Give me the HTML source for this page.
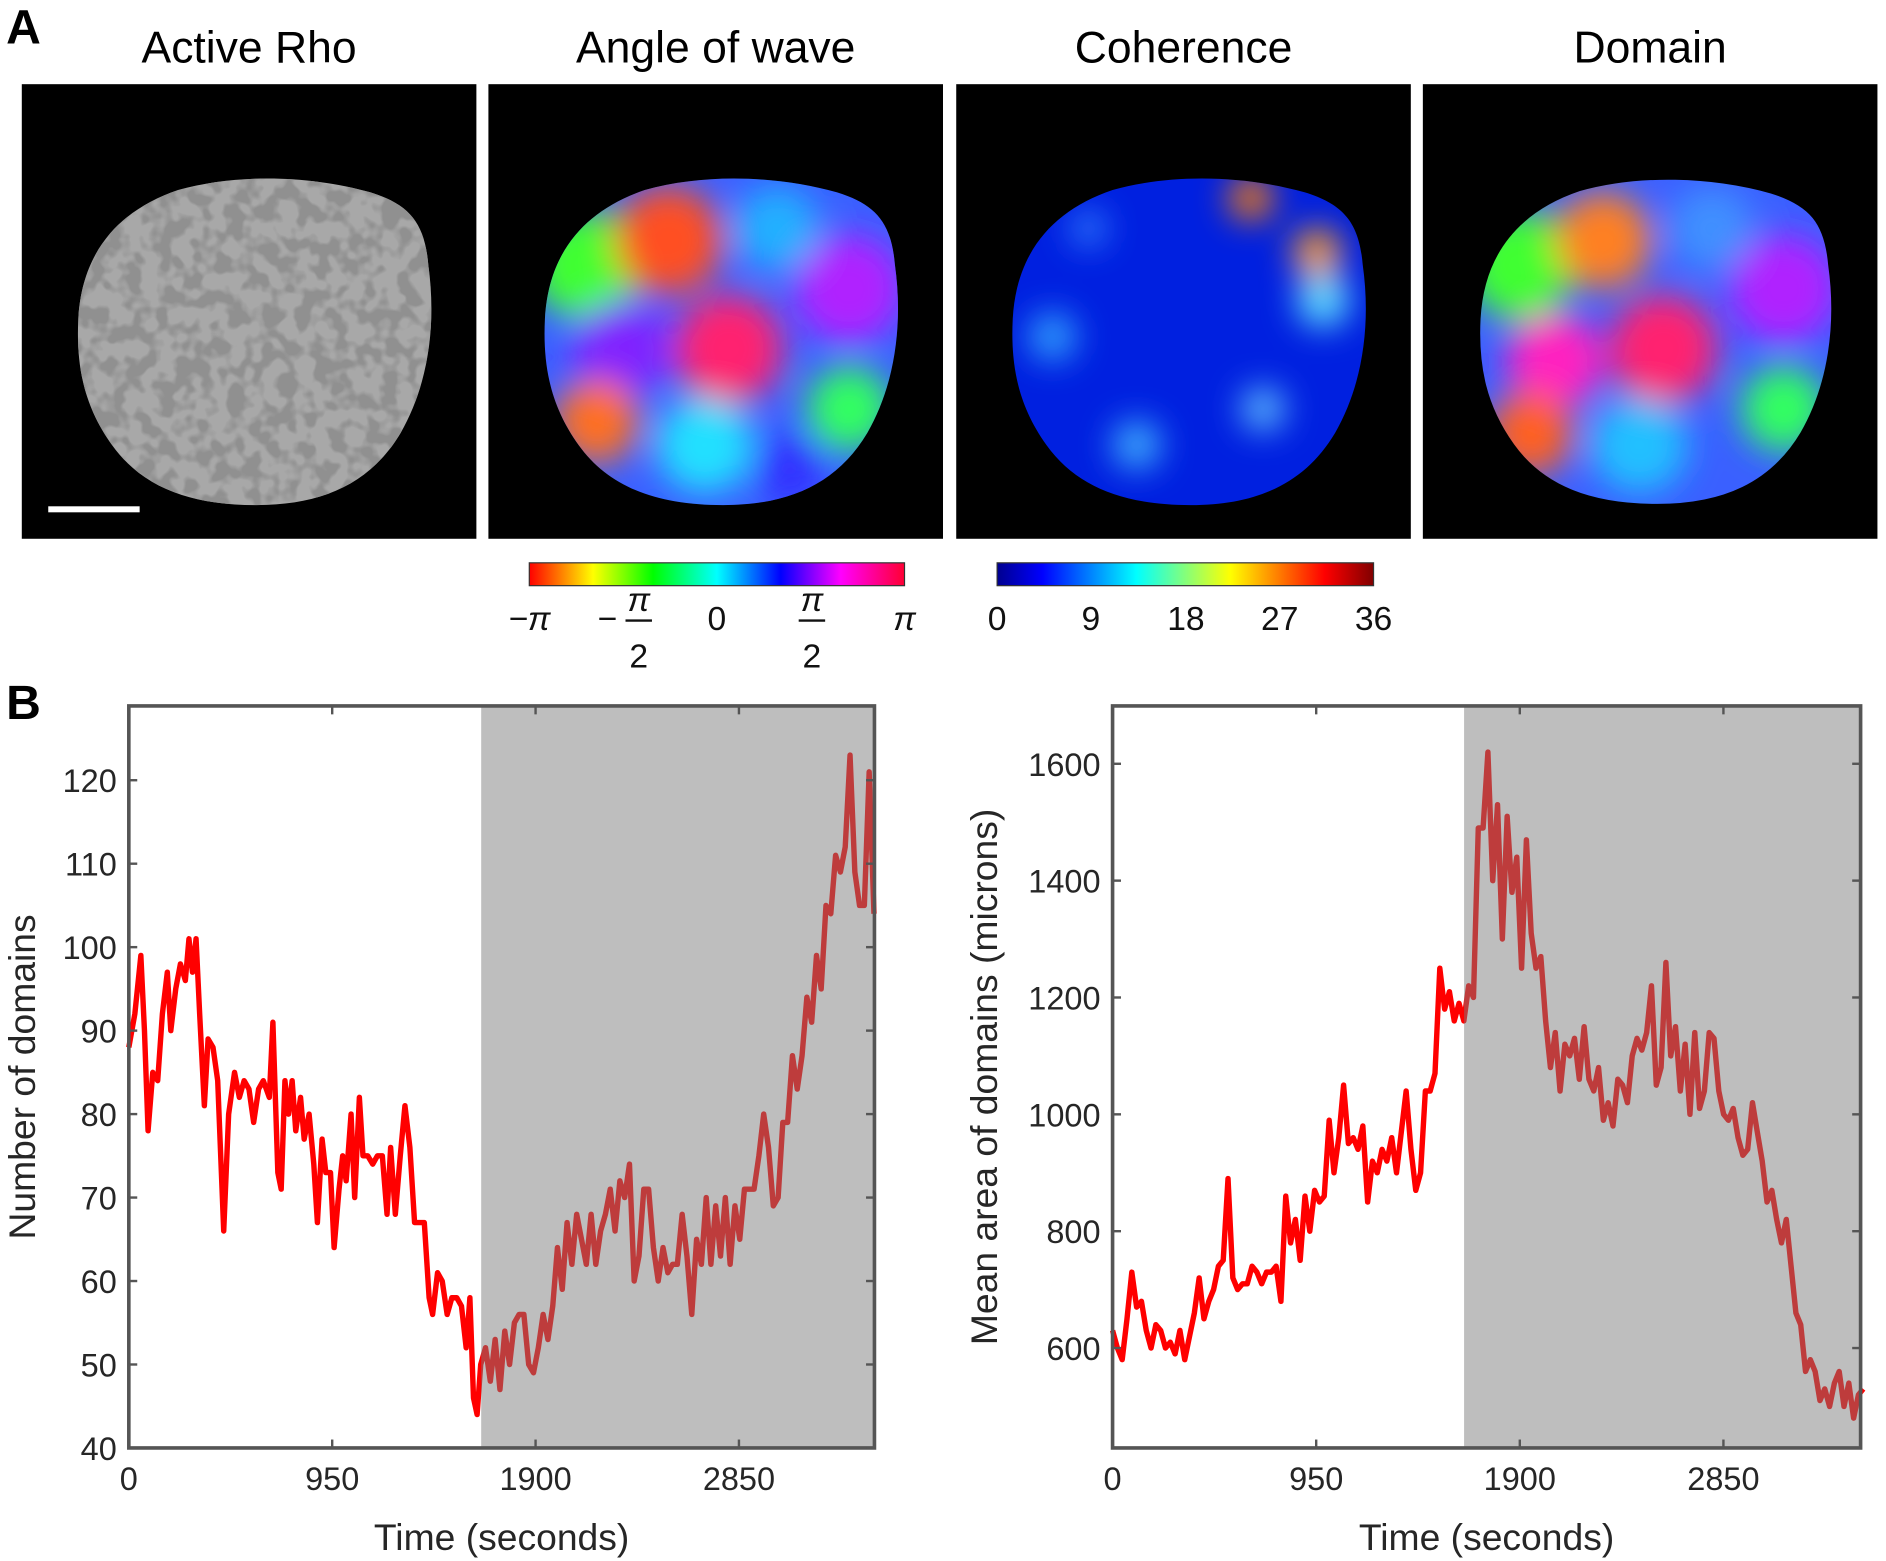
<!DOCTYPE html>
<html><head><meta charset="utf-8"><style>
html,body{margin:0;padding:0;background:#fff}
svg{display:block}
text{font-family:"Liberation Sans",Arial,sans-serif}
.serif{font-family:"Liberation Serif","DejaVu Serif",serif}
</style></head><body>
<svg id="fig" width="1886" height="1561" viewBox="0 0 1568 1298" xmlns="http://www.w3.org/2000/svg">
<defs>
 <path id="blob" d="M47,195 C50,140 80,105 130,88 C180,74 240,76 290,90 C322,100 335,115 338,150 C345,200 338,250 315,290 C290,332 250,350 195,350 C140,350 100,335 75,300 C52,268 45,235 47,195 Z"/>
 <clipPath id="cb"><use href="#blob"/></clipPath>
 <filter id="blur12"><feGaussianBlur stdDeviation="14"/></filter>
 <filter id="rhoTex" x="0" y="0" width="100%" height="100%">
  <feTurbulence type="fractalNoise" baseFrequency="0.07" numOctaves="2" seed="3"/>
  <feColorMatrix type="matrix" values="0 0 0 0 0.28  0 0 0 0 0.28  0 0 0 0 0.28  6 0 0 0 -2.6"/>
 </filter>
 <linearGradient id="hsv" x1="0" x2="1">
  <stop offset="0" stop-color="#ff0000"/><stop offset="0.17" stop-color="#ffff00"/><stop offset="0.33" stop-color="#00ff00"/>
  <stop offset="0.5" stop-color="#00ffff"/><stop offset="0.67" stop-color="#0000ff"/><stop offset="0.83" stop-color="#ff00ff"/><stop offset="1" stop-color="#ff0033"/>
 </linearGradient>
 <linearGradient id="jet" x1="0" x2="1">
  <stop offset="0" stop-color="#00008f"/><stop offset="0.12" stop-color="#0000ff"/><stop offset="0.37" stop-color="#00ffff"/>
  <stop offset="0.62" stop-color="#ffff00"/><stop offset="0.87" stop-color="#ff0000"/><stop offset="1" stop-color="#800000"/>
 </linearGradient>
</defs>

<text x="5" y="36" font-size="40" font-weight="bold">A</text>
<text x="5" y="598" font-size="40" font-weight="bold">B</text>

<g font-size="37" text-anchor="middle">
 <text x="207" y="52">Active Rho</text>
 <text x="595" y="52">Angle of wave</text>
 <text x="984" y="52">Coherence</text>
 <text x="1372" y="52">Domain</text>
</g>

<g transform="translate(18,70)">
 <rect width="378" height="378" fill="#000"/>
 <use href="#blob" fill="#a8a8a8"/>
 <g clip-path="url(#cb)"><rect width="378" height="378" filter="url(#rhoTex)"/></g>
 <rect x="22" y="351" width="76" height="5" fill="#fff"/>
</g>
<g transform="translate(406,70)">
 <rect width="378" height="378" fill="#000"/>
 <use href="#blob" fill="#3a60ff"/>
 <g clip-path="url(#cb)" filter="url(#blur12)">
  <circle cx="80" cy="150" r="45" fill="#40ff30"/><circle cx="150" cy="130" r="45" fill="#ff5020"/>
  <circle cx="110" cy="220" r="40" fill="#8020ff"/><circle cx="200" cy="220" r="45" fill="#ff2070"/>
  <circle cx="300" cy="170" r="45" fill="#b020ff"/><circle cx="240" cy="120" r="35" fill="#20b0ff"/>
  <circle cx="90" cy="280" r="35" fill="#ff7020"/><circle cx="180" cy="300" r="40" fill="#20e0ff"/>
  <circle cx="300" cy="270" r="35" fill="#30ff60"/><circle cx="250" cy="320" r="30" fill="#3030ff"/>
 </g>
</g>
<g transform="translate(795,70)">
 <rect width="378" height="378" fill="#000"/>
 <use href="#blob" fill="#0020e0"/>
 <g clip-path="url(#cb)" filter="url(#blur12)">
  <circle cx="80" cy="210" r="20" fill="#30a0ff"/><circle cx="150" cy="300" r="20" fill="#40b0ff"/>
  <circle cx="245" cy="95" r="18" fill="#ff8000"/><circle cx="300" cy="140" r="20" fill="#ffa020"/>
  <circle cx="305" cy="180" r="22" fill="#60e0ff"/><circle cx="255" cy="270" r="18" fill="#60c0ff"/>
  <circle cx="110" cy="120" r="15" fill="#3080ff"/>
 </g>
</g>
<g transform="translate(1183,70)">
 <rect width="378" height="378" fill="#000"/>
 <use href="#blob" fill="#3a60ff"/>
 <g clip-path="url(#cb)" filter="url(#blur12)">
  <circle cx="80" cy="150" r="45" fill="#40ff30"/><circle cx="150" cy="130" r="40" fill="#ff8020"/>
  <circle cx="110" cy="230" r="40" fill="#ff20c0"/><circle cx="200" cy="220" r="45" fill="#ff2070"/>
  <circle cx="300" cy="170" r="45" fill="#b020ff"/><circle cx="240" cy="120" r="35" fill="#4090ff"/>
  <circle cx="90" cy="290" r="35" fill="#ff6020"/><circle cx="180" cy="300" r="40" fill="#20c0ff"/>
  <circle cx="300" cy="270" r="35" fill="#30ff60"/>
 </g>
 <use href="#blob" fill="none" stroke="#000" stroke-width="2"/>
</g>

<g>
 <rect x="440" y="468" width="312" height="19" fill="url(#hsv)" stroke="#333" stroke-width="1"/>
 <g class="serif" font-size="28" text-anchor="middle" fill="#111">
  <text x="440" y="524" font-style="italic">−π</text>
  <text x="505" y="524">−</text>
  <text x="531" y="508" font-style="italic">π</text><line x1="520" x2="542" y1="516" y2="516" stroke="#111" stroke-width="2"/><text x="531" y="555">2</text>
  <text x="596" y="524">0</text>
  <text x="675" y="508" font-style="italic">π</text><line x1="664" x2="686" y1="516" y2="516" stroke="#111" stroke-width="2"/><text x="675" y="555">2</text>
  <text x="752" y="524" font-style="italic">π</text>
 </g>
</g>
<g>
 <rect x="829" y="468" width="313" height="19" fill="url(#jet)" stroke="#333" stroke-width="1"/>
 <g class="serif" font-size="28" text-anchor="middle" fill="#111">
  <text x="829" y="524">0</text><text x="907" y="524">9</text><text x="986" y="524">18</text><text x="1064" y="524">27</text><text x="1142" y="524">36</text>
 </g>
</g>

<g id="chart1"></g>
<g id="chart2"></g>
</svg>
<script>
const c1TimesA = [0,28,56,73,90,112,135,157,180,196,219,241,264,281,297,314,331,353,370,393,415,443,466,494,516,539,561,583,606,628,656,673,696,712,729,746,763,780,802,819,842,864,881,903,920,942,959,982,999,1015,1038,1055,1077,1094,1116,1139,1161,1184,1206,1223,1245,1268,1290,1313,1335,1358,1380,1403,1419,1442,1464,1487,1509,1532,1554,1576,1593,1610,1627];
const c1ValuesA = [88,92,99,90,78,85,84,92,97,90,95,98,96,101,97,101,92,81,89,88,84,66,80,85,82,84,83,79,83,84,82,91,73,71,84,80,84,78,82,77,80,74,67,77,73,73,64,71,75,72,80,70,82,75,75,74,75,75,68,76,68,75,81,76,67,67,67,58,56,61,60,56,58,58,57,52,58,46,44];
const c1ValuesB = [50,52,48,53,47,54,50,55,56,56,50,49,52,56,53,57,64,59,67,62,68,65,62,68,62,66,68,71,66,72,70,74,60,63,71,71,64,60,64,61,62,62,68,63,56,65,62,70,62,69,63,70,62,69,65,71,71,71,75,80,76,69,70,79,79,87,83,87,94,91,99,95,105,104,111,109,112,123,109,105,105,121,104];
const c1StartB = 1644, c1StepB = 22.4;
const c1YTicks = [40,50,60,70,80,90,100,110,120];
const xTicks = [0,950,1900,2850];
const c1Shade = [1646, 3480];
const c2Values = [630,600,580,650,730,670,680,630,600,640,630,600,610,590,630,580,620,660,720,650,680,700,740,750,890,720,700,710,710,740,730,710,730,730,740,680,860,780,820,750,860,800,870,850,860,990,900,960,1050,950,960,940,980,850,920,900,940,920,960,900,970,1040,940,870,900,1040,1040,1070,1250,1180,1210,1160,1190,1160,1220,1200,1490,1490,1620,1400,1530,1300,1510,1380,1440,1250,1470,1310,1250,1270,1160,1080,1140,1040,1120,1100,1130,1060,1150,1060,1040,1080,990,1020,980,1060,1050,1020,1100,1130,1110,1140,1220,1050,1080,1260,1100,1150,1040,1120,1000,1140,1010,1040,1140,1130,1040,1000,990,1010,960,930,940,1020,970,920,850,870,820,780,820,740,660,640,560,580,560,510,530,500,540,560,500,540,480,520,530];
const c2Step = 22.45;
const c2YTicks = [600,800,1000,1200,1400,1600];
const c2Shade = [1640, 3490];

const NS='http://www.w3.org/2000/svg';
function mk(parent,tag,attrs){const e=document.createElementNS(NS,tag);for(const k in attrs)e.setAttribute(k,attrs[k]);parent.appendChild(e);return e;}

function drawChart(g, box, xDom, yDom, yTicks, times, vals, shade, ytitle, ytitleX){
  const sx=v=>box.x0+(v-xDom[0])/(xDom[1]-xDom[0])*(box.x1-box.x0);
  const sy=v=>box.y1-(v-yDom[0])/(yDom[1]-yDom[0])*(box.y1-box.y0);
  const d=times.map((t,i)=>(i?'L':'M')+sx(t).toFixed(1)+','+sy(vals[i]).toFixed(1)).join('');
  const line=mk(g,'path',{d:d,fill:'none',stroke:'#ff0000','stroke-width':4.5,'stroke-linejoin':'round'});
  
  
  const sh=mk(g,'rect',{x:sx(shade[0]),y:box.y0,width:sx(shade[1])-sx(shade[0]),height:box.y1-box.y0,fill:'rgb(123,123,123)','fill-opacity':0.49});
  
  
  const fr=mk(g,'rect',{x:box.x0,y:box.y0,width:box.x1-box.x0,height:box.y1-box.y0,fill:'none',stroke:'#555','stroke-width':3});
  
  
  yTicks.forEach(v=>{
    const y=sy(v);
    mk(g,'line',{x1:box.x0,x2:box.x0+7,y1:y,y2:y,stroke:'#555','stroke-width':2});
    mk(g,'line',{x1:box.x1,x2:box.x1-7,y1:y,y2:y,stroke:'#555','stroke-width':2});
    const t=mk(g,'text',{x:box.x0-10,y:y+10,'font-size':27,'text-anchor':'end',fill:'#262626'});
    t.textContent=v;
    
    
  });
  xTicks.forEach(v=>{
    const x=sx(v);
    mk(g,'line',{x1:x,x2:x,y1:box.y1,y2:box.y1-7,stroke:'#555','stroke-width':2});
    mk(g,'line',{x1:x,x2:x,y1:box.y0,y2:box.y0+7,stroke:'#555','stroke-width':2});
    const t=mk(g,'text',{x:x,y:box.y1+35,'font-size':27,'text-anchor':'middle',fill:'#262626'});
    t.textContent=v;
    
    
  });
  const xt=mk(g,'text',{x:(box.x0+box.x1)/2,y:box.y1+85,'font-size':31,'text-anchor':'middle',fill:'#262626'});
  xt.textContent='Time (seconds)';
  
  
  const yc=(box.y0+box.y1)/2;
  const yt=mk(g,'text',{x:ytitleX,y:yc,'font-size':31,'text-anchor':'middle',fill:'#262626',transform:`rotate(-90 ${ytitleX} ${yc})`});
  yt.textContent=ytitle;
  
  
}
const c1Times=c1TimesA.concat(c1ValuesB.map((_,i)=>c1StartB+i*c1StepB));
const c1Vals=c1ValuesA.concat(c1ValuesB);
drawChart(document.getElementById('chart1'),{x0:107,x1:727,y0:587,y1:1204},[0,3483],[40,128.9],c1YTicks,c1Times,c1Vals,c1Shade,'Number of domains',29);
const c2Times=c2Values.map((_,i)=>i*c2Step);
drawChart(document.getElementById('chart2'),{x0:925,x1:1547,y0:587,y1:1204},[0,3490],[429,1699],c2YTicks,c2Times,c2Values,c2Shade,'Mean area of domains (microns)',829);
</script>
</body></html>
